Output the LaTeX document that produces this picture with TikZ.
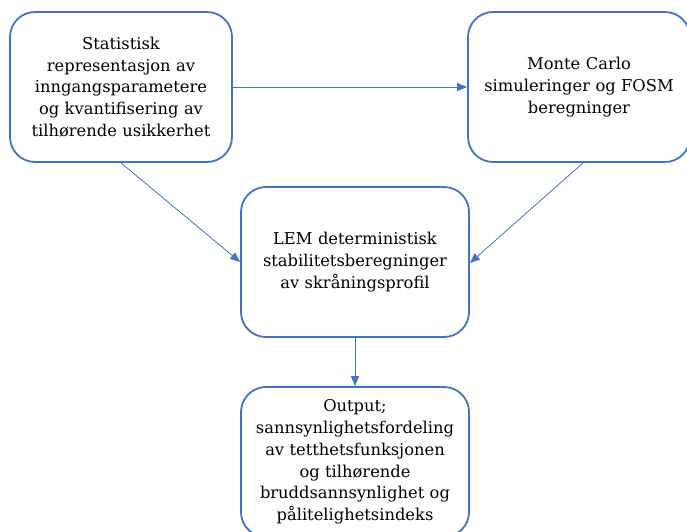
\documentclass[tikz,border=0pt]{standalone}
\usepackage{fontspec}
\setmainfont{DejaVu Serif}
\usepackage{tikz}
\usetikzlibrary{arrows.meta, positioning}
\definecolor{myblue}{HTML}{4472C4}
\tikzset{>={Triangle[length=10pt,width=8pt]}}
\tikzset{
  boks/.style={draw=myblue, line width=1.8pt, rounded corners=25pt, fill=white,
    minimum width=222pt, minimum height=150pt, align=center, text width=210pt,
    font=\fontsize{16.3}{21.7}\selectfont},
  pil/.style={->, myblue, line width=0.8pt}
}

\begin{document}
\begin{tikzpicture}[x=1pt,y=-1pt]
			\useasboundingbox (0,0) rectangle (687,531);
			\node[boks] (stat) at (121,87) {Statistisk\\representasjon av\\inngangsparametere\\og kvantifisering av\\tilhørende usikkerhet};
			\node[boks] (mc) at (579,87) {Monte Carlo\\simuleringer og FOSM\\beregninger};
			\node[boks, minimum width=228pt] (lem) at (355,262) {LEM deterministisk\\stabilitetsberegninger\\av skråningsprofil};
			\node[boks, minimum width=228pt] (out) at (355,462) {Output;\\sannsynlighetsfordeling\\av tetthetsfunksjonen\\og tilhørende\\bruddsannsynlighet og\\pålitelighetsindeks};
			\draw[pil] (stat) -- (mc);
			\draw[pil] (stat.south) -- (lem.west);
			\draw[pil] ([xshift=4pt]mc.south) -- ([yshift=-1pt]lem.east);
			\draw[pil] (lem) -- (out);
		\end{tikzpicture}
\end{document}
